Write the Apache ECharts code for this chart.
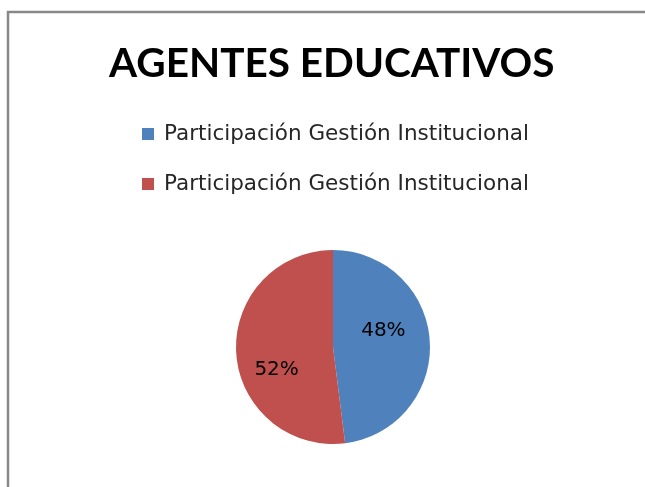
<!DOCTYPE html>
<html>
<head>
<meta charset="utf-8">
<script src="https://cdn.jsdelivr.net/npm/echarts@6/dist/echarts.min.js"></script>
<style>
  html, body { margin: 0; padding: 0; background: #fff; }
  #chart { width: 645px; height: 487px; }
</style>
</head>
<body>
<div id="chart"></div>
<script>
const titleText = 'AGENTES EDUCATIVOS';
// both legend entries read the same; the zero-width space keeps them apart
const categories = ['Participación Gestión Institucional', 'Participación Gestión Institucional\u200b'];
const values = [48, 52];
const colors = ['#4F81BD', '#C0504D'];

const chartData = categories.map((name, i) => ({
  name: name,
  value: values[i],
  itemStyle: { color: colors[i] }
}));

const option = {
  backgroundColor: '#fff',
  animation: false,
  graphic: [
    {
      type: 'rect',
      shape: { x: 8, y: 12, width: 700, height: 600 },
      style: { fill: 'none', stroke: '#888', lineWidth: 2.5 },
      silent: true
    }
  ],
  title: {
    text: titleText,
    left: 104,
    top: 38,
    textStyle: {
      fontFamily: 'Lato',
      fontWeight: 'bold',
      fontSize: 40.5,
      color: '#000'
    }
  },
  legend: {
    orient: 'vertical',
    left: 137,
    top: 118,
    itemWidth: 12,
    itemHeight: 12,
    itemGap: 28,
    icon: 'rect',
    formatter: name => name.replace('\u200b', ''),
    textStyle: {
      fontFamily: 'DejaVu Sans',
      fontSize: 21.5,
      color: '#262626',
      padding: [0, 0, 0, 5]
    }
  },
  series: [
    {
      type: 'pie',
      center: [333, 347],
      radius: 97,
      startAngle: 90,
      clockwise: true,
      label: {
        position: 'inside',
        formatter: '{d}%',
        fontFamily: 'DejaVu Sans',
        fontSize: 20,
        color: '#000'
      },
      labelLine: { show: false },
      labelLayout: function (params) {
        // nudge to where the original labels sit
        return params.dataIndex === 0 ? { dx: -1, dy: -13 } : { dx: -5, dy: 20 };
      },
      emphasis: { disabled: true },
      data: chartData
    }
  ]
};

const myChart = echarts.init(document.getElementById('chart'));
myChart.setOption(option);
window.addEventListener('resize', function () {
  myChart.resize();
});
</script>
</body>
</html>
